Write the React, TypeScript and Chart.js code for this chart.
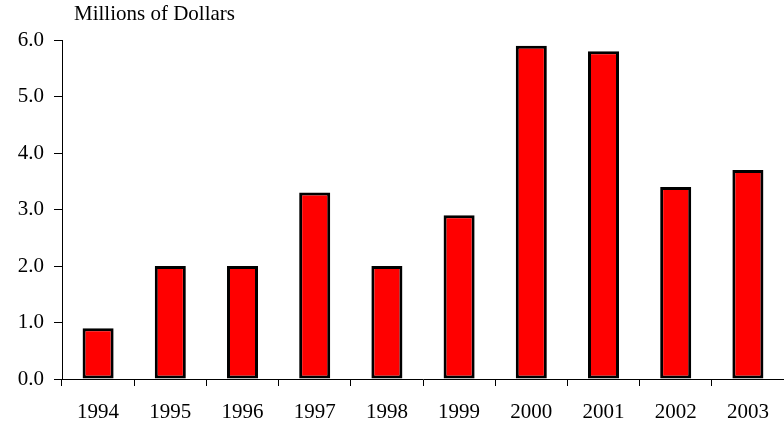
import React, { useEffect, useRef } from "react";
import { Chart, registerables } from "chart.js";

Chart.register(...registerables);

const years = ["1994", "1995", "1996", "1997", "1998", "1999", "2000", "2001", "2002", "2003"];
const values = [0.9, 2.0, 2.0, 3.3, 2.0, 2.9, 5.9, 5.8, 3.4, 3.7];
const yTitle = "Millions of Dollars";
const FONT = "'Liberation Serif', 'Times New Roman', serif";

const titlePlugin = {
  id: "topTitle",
  afterDraw(chart: any) {
    const ctx = chart.ctx;
    ctx.save();
    ctx.font = `21px ${FONT}`;
    ctx.fillStyle = "#000";
    ctx.textAlign = "left";
    ctx.textBaseline = "alphabetic";
    ctx.fillText(yTitle, 74, 20);
    ctx.restore();
  },
};

export default function App() {
  const ref = useRef<HTMLCanvasElement>(null);
  useEffect(() => {
    if (!ref.current) return;
    const chart = new Chart(ref.current, {
      type: "bar",
      data: {
        labels: years,
        datasets: [
          {
            data: values,
            backgroundColor: "#FF0000",
            borderColor: "#000000",
            borderWidth: 3,
            borderSkipped: false,
            barPercentage: 0.43,
            categoryPercentage: 1,
          },
        ],
      },
      options: {
        responsive: false,
        animation: false,
        devicePixelRatio: 1,
        layout: { padding: { top: 40, left: 0, right: 0, bottom: 0 } },
        plugins: { legend: { display: false }, tooltip: { enabled: false } },
        scales: {
          x: {
            grid: {
              display: true,
              drawOnChartArea: false,
              drawTicks: true,
              tickLength: 7,
              color: "#000",
              offset: true,
            },
            border: { display: true, color: "#000", width: 1 },
            ticks: {
              color: "#000",
              font: { family: FONT, size: 21 },
              padding: 14,
              maxRotation: 0,
              autoSkip: false,
            },
            afterFit(scale: any) {
              scale.height = 45;
            },
          },
          y: {
            min: 0,
            max: 6,
            grid: {
              display: true,
              drawOnChartArea: false,
              drawTicks: true,
              tickLength: 8,
              color: "#000",
            },
            border: { display: true, color: "#000", width: 1 },
            ticks: {
              stepSize: 1,
              color: "#000",
              font: { family: FONT, size: 21 },
              padding: 10,
              callback: (v: any) => Number(v).toFixed(1),
            },
            afterFit(scale: any) {
              scale.width = 62;
            },
          },
        },
      },
      plugins: [titlePlugin],
    });
    return () => chart.destroy();
  }, []);
  return (
    <div style={{ position: "absolute", left: 0, top: 0, width: 784, height: 424, background: "#fff" }}>
      <canvas ref={ref} width={784} height={424} />
    </div>
  );
}
